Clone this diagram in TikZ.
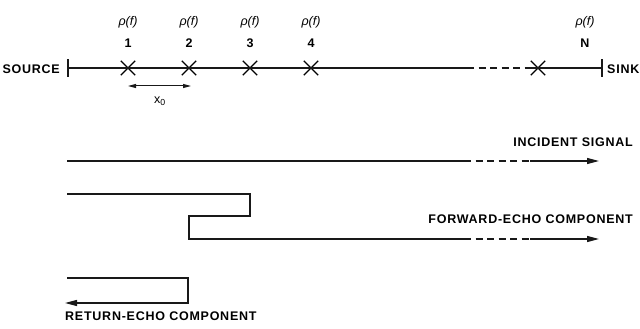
\documentclass[tikz,border=0pt]{standalone}
\usepackage{fontspec}
\setmainfont{Liberation Sans}
\newfontfamily\lblfont[LetterSpace=6]{Liberation Sans}
\usetikzlibrary{arrows.meta,shapes.misc}
\begin{document}
\begin{tikzpicture}[x=1pt,y=-1pt,
  wire/.style={line width=1.3pt,black!90},
  dsh/.style={wire,dash pattern=on 7pt off 4.5pt},
  arr/.style={-{Triangle[length=12pt,width=6pt]}},
  lbl/.style={font=\lblfont\bfseries\fontsize{12.5}{13}\selectfont,inner sep=0pt},
  rho/.style={font=\itshape\fontsize{12.5}{13}\selectfont,inner sep=0pt},
  xlab/.style={font=\fontsize{12.5}{13}\selectfont,inner sep=0pt},
  num/.style={font=\bfseries\fontsize{12.5}{13}\selectfont,inner sep=0pt},
  xmark/.style={cross out,draw,line width=1.3pt,minimum size=13pt,inner sep=0pt}]
\useasboundingbox (0,0) rectangle (640,329);
% top line
\coordinate (sb) at (68,68);
\coordinate (kb) at (602,68);
\node[xmark] (c1) at (128,68) {};
\node[xmark] (c2) at (189,68) {};
\node[xmark] (c3) at (250,68) {};
\node[xmark] (c4) at (311,68) {};
\node[xmark] (cN) at (538,68) {};
\coordinate (d1) at (467,68);
\coordinate (d2) at (532,68);
\draw[wire] ([yshift=-9pt]sb) -- ([yshift=9pt]sb);
\draw[wire] ([yshift=-9pt]kb) -- ([yshift=9pt]kb);
\draw[wire] (sb) -- (c1.center) -- (c2.center) -- (c3.center) -- (c4.center) -- (d1);
\draw[dsh] (d1) -- (d2);
\draw[wire] (d2) -- (cN.center) -- (kb);
\node[lbl,anchor=east] (src) at (60,69) {SOURCE};
\node[lbl,anchor=west] (snk) at (607,69) {SINK};
\foreach \n/\x/\t in {1/128/1,2/189/2,3/250/3,4/311/4,N/585/N}{
  \node[rho] (r\n) at (\x,22) {ρ(f)};
  \node[num] (n\n) at (\x,43) {\t};
}
% x0 arrow
\coordinate (xa) at (128,86);
\coordinate (xb) at (191,86);
\draw[wire,line width=1pt,{Triangle[length=8pt,width=4pt]}-{Triangle[length=8pt,width=4pt]}] (xa) -- (xb);
\node[xlab] (x0) at (160,101) {x\textsubscript{0}};
% incident signal
\coordinate (i0) at (67,161);
\coordinate (i1) at (464,161);
\coordinate (i2) at (530,161);
\coordinate (i3) at (599,161);
\draw[wire] (i0) -- (i1);
\draw[dsh] (i1) -- (i2);
\draw[wire,arr] (i2) -- (i3);
\node[lbl,anchor=east] (inc) at (633,142) {INCIDENT SIGNAL};
% forward echo
\coordinate (f0) at (67,194);
\coordinate (f1) at (250,194);
\coordinate (f2) at (250,216);
\coordinate (f3) at (189,216);
\coordinate (f4) at (189,239);
\coordinate (f5) at (464,239);
\coordinate (f6) at (530,239);
\coordinate (f7) at (599,239);
\draw[wire] (f0) -- (f1) -- (f2) -- (f3) -- (f4) -- (f5);
\draw[dsh] (f5) -- (f6);
\draw[wire,arr] (f6) -- (f7);
\node[lbl,anchor=east] (fwd) at (633,219) {FORWARD-ECHO COMPONENT};
% return echo
\coordinate (e0) at (67,278);
\coordinate (e1) at (188,278);
\coordinate (e2) at (188,303);
\coordinate (e3) at (65,303);
\draw[wire,arr] (e0) -- (e1) -- (e2) -- (e3);
\node[lbl,anchor=west] (ret) at (65,316) {RETURN-ECHO COMPONENT};
\end{tikzpicture}
\end{document}
